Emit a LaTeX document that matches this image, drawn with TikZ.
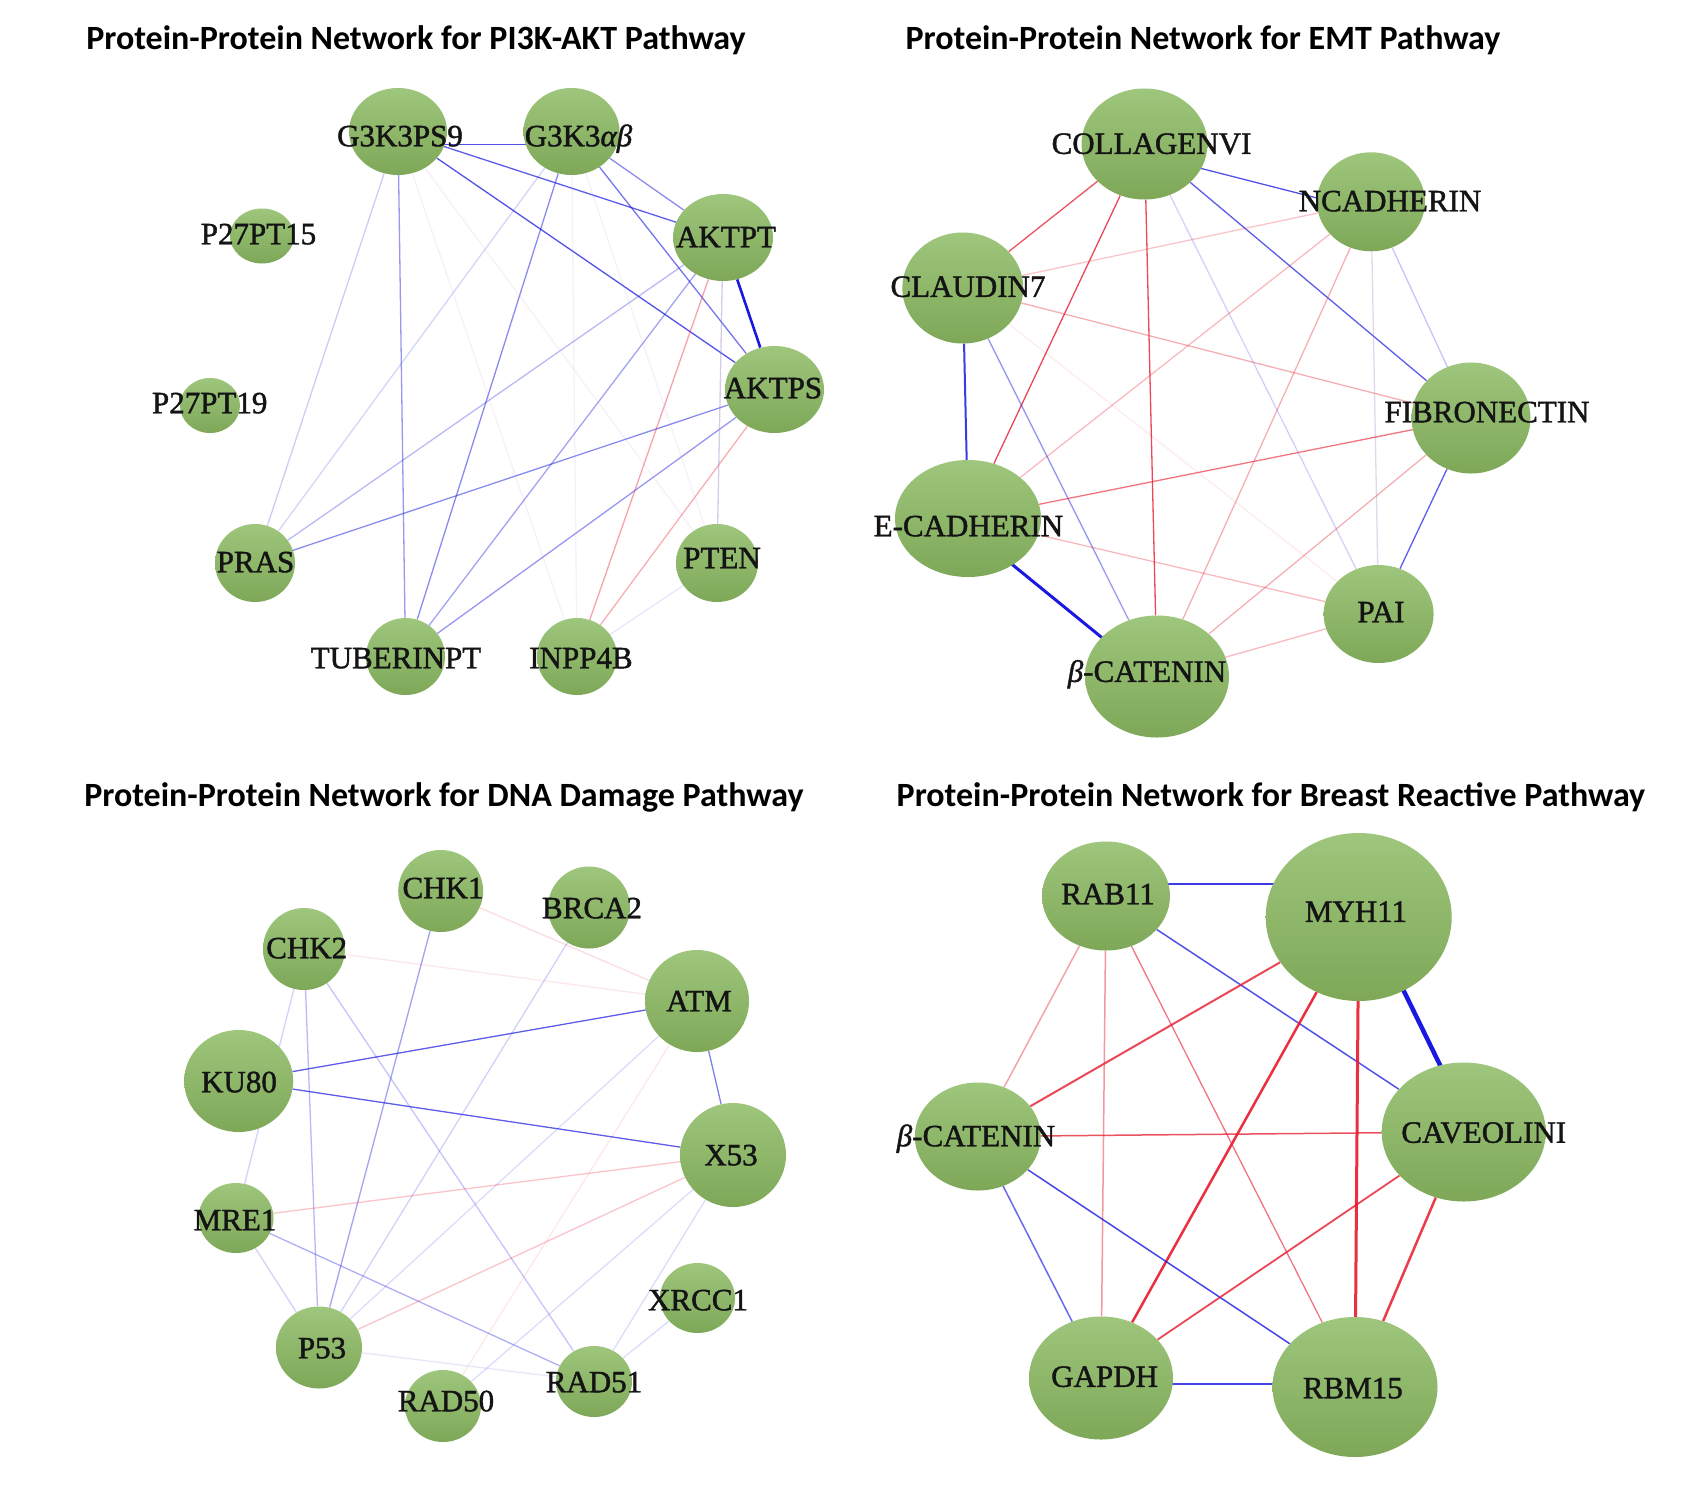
\documentclass[tikz,border=0pt]{standalone}
\usepackage{fontspec}
\setmainfont{Liberation Serif}
\newfontfamily\labfont{Liberation Serif}[FakeBold=1.4]
\newfontfamily\titlefont{Carlito}
\usetikzlibrary{shapes.geometric}
\pgfdeclarelayer{bg}
\pgfsetlayers{bg,main}
\definecolor{ntop}{RGB}{158,198,124}
\definecolor{nbot}{RGB}{126,168,88}
\definecolor{eblue}{RGB}{25,25,225}
\definecolor{ered}{RGB}{232,25,45}
\definecolor{egray}{RGB}{150,130,190}
\begin{document}
\begin{tikzpicture}[x=1pt,y=-1pt,
 prot/.style 2 args={ellipse, inner sep=0pt, minimum width=#1pt, minimum height=#2pt, top color=ntop, bottom color=nbot, draw=none},
 lab/.style={inner sep=0pt, text height=20.5pt, text depth=0pt, text=black!92, font=\labfont\fontsize{31}{35}\selectfont},
 ttl/.style={inner sep=0pt, text height=22pt, text depth=0pt, font=\titlefont\bfseries\fontsize{34}{40}\selectfont},
 be/.style={draw=eblue, draw opacity=#1, line width=1.3pt},
 re/.style={draw=ered, draw opacity=#1, line width=1.3pt},
 ge/.style={draw=egray, draw opacity=#1, line width=1.3pt},
]
\useasboundingbox (0,0) rectangle (1694,1486);

% ---------- titles
\node[ttl] (t1) at (416,38) {Protein-Protein Network for PI3K-AKT Pathway};
\node[ttl] (t2) at (1203,38) {Protein-Protein Network for EMT Pathway};
\node[ttl] (t3) at (444,795) {Protein-Protein Network for DNA Damage Pathway};
\node[ttl] (t4) at (1271,795) {Protein-Protein Network for Breast Reactive Pathway};

% ---------- panel 1: PI3K-AKT
\node[prot={98}{87}] (ps9) at (398,131.5) {};
\node[prot={96}{87}] (ab) at (571.5,131.5) {};
\node[prot={64}{55}] (p15) at (262,236) {};
\node[prot={60}{55}] (p19) at (210,405.5) {};
\node[prot={100}{87}] (aktpt) at (723,237.5) {};
\node[prot={99}{87}] (aktps) at (774.5,389.5) {};
\node[prot={80}{78}] (pras) at (255,563) {};
\node[prot={82}{78}] (pten) at (717,563) {};
\node[prot={79}{77}] (tub) at (405.5,656.5) {};
\node[prot={80}{77}] (inpp) at (577,656.5) {};
\node[lab] (lps9) at (400,136) {G3K3PS9};
\node[lab] (lab1) at (578.5,136) {G3K3\textit{αβ}};
\node[lab] (lp15) at (258.5,234) {P27PT15};
\node[lab] (lp19) at (209.7,403) {P27PT19};
\node[lab] (laktpt) at (726,237) {AKTPT};
\node[lab] (laktps) at (773,388) {AKTPS};
\node[lab] (lpras) at (255.5,562) {PRAS};
\node[lab] (lpten) at (722,558) {PTEN};
\node[lab] (ltub) at (396,658) {TUBERINPT};
\node[lab] (linpp) at (581,658) {INPP4B};

% ---------- panel 2: EMT
\node[prot={126}{111}] (coll) at (1144.5,144) {};
\node[prot={108}{99}] (ncad) at (1371,201.8) {};
\node[prot={121}{111}] (claud) at (962.8,288) {};
\node[prot={119}{111}] (fibro) at (1471,418) {};
\node[prot={146}{117}] (ecad) at (968,518.5) {};
\node[prot={110}{98}] (pai) at (1378.6,614) {};
\node[prot={144}{122}] (bcat) at (1157,676.5) {};
\node[lab] (lcoll) at (1151.5,143.6) {COLLAGENVI};
\node[lab] (lncad) at (1390,201) {NCADHERIN};
\node[lab] (lclaud) at (968,286.6) {CLAUDIN7};
\node[lab] (lfibro) at (1487,412) {FIBRONECTIN};
\node[lab] (lecad) at (968.4,526) {E-CADHERIN};
\node[lab] (lpai) at (1381,612) {PAI};
\node[lab] (lbcat) at (1147,671.6) {\textit{β}-CATENIN};

% ---------- panel 3: DNA damage
\node[prot={85}{82}] (chk1) at (440.7,891) {};
\node[prot={82}{82}] (chk2) at (304,949) {};
\node[prot={109}{102}] (ku80) at (238.7,1081) {};
\node[prot={75}{70}] (mre1) at (236,1218) {};
\node[prot={82}{82}] (brca2) at (589,907.5) {};
\node[prot={104}{102}] (atm) at (697,1001) {};
\node[prot={106}{104}] (x53) at (733,1155) {};
\node[prot={75}{70}] (xrcc1) at (697.5,1298) {};
\node[prot={76}{71}] (rad51) at (594,1381.5) {};
\node[prot={76}{72}] (rad50) at (443,1406) {};
\node[prot={86}{82}] (p53) at (319,1347.5) {};
\node[lab] (lchk1) at (443,888) {CHK1};
\node[lab] (lchk2) at (306.7,948) {CHK2};
\node[lab] (lku80) at (239,1082) {KU80};
\node[lab] (lmre1) at (235,1220) {MRE1};
\node[lab] (lbrca2) at (592,908) {BRCA2};
\node[lab] (latm) at (699,1001) {ATM};
\node[lab] (lx53) at (731,1155) {X53};
\node[lab] (lxrcc1) at (698,1300) {XRCC1};
\node[lab] (lrad51) at (594,1382) {RAD51};
\node[lab] (lrad50) at (446,1401) {RAD50};
\node[lab] (lp53) at (322,1348) {P53};

% ---------- panel 4: Breast reactive
\node[prot={128}{109}] (rab) at (1106,896) {};
\node[prot={186}{168}] (myh) at (1358.7,917) {};
\node[prot={126}{108}] (bcatb) at (977.8,1136.5) {};
\node[prot={164}{139}] (cav) at (1463.7,1132) {};
\node[prot={144}{123}] (gapdh) at (1101,1378) {};
\node[prot={165}{140}] (rbm) at (1355,1387) {};
\node[lab] (lrab) at (1108,894) {RAB11};
\node[lab] (lmyh) at (1356,911.6) {MYH11};
\node[lab] (lbcatb) at (976,1136) {\textit{β}-CATENIN};
\node[lab] (lcav) at (1483.7,1132.5) {CAVEOLINI};
\node[lab] (lgapdh) at (1104.6,1376.6) {GAPDH};
\node[lab] (lrbm) at (1352.8,1388) {RBM15};

\begin{pgfonlayer}{bg}
\fill[white] (0,0) rectangle (1694,1486);
% panel 1 edges
\draw[be=.75] ([yshift=-13pt]ps9.center) -- ([yshift=-13pt]ab.center);
\draw[be=.7] (ps9) -- (aktpt);
\draw[be=.75] (ps9) -- (aktps);
\draw[be=.5] (ab) -- (aktpt);
\draw[be=.6] (ab) -- (aktps);
\draw[be=1, line width=2.6pt] (aktpt) -- (aktps);
\draw[be=.45] (ps9) -- (tub);
\draw[be=.5] (ab) -- (tub);
\draw[be=.5] (aktps) -- (pras);
\draw[be=.3] (aktpt) -- (pras);
\draw[be=.4] (aktpt) -- (tub);
\draw[be=.45] (aktps) -- (tub);
\draw[be=.22] (ps9) -- (pras);
\draw[be=.18] (ab) -- (pras);
\draw[re=.4] (aktpt) -- (inpp);
\draw[re=.35] (aktps) -- (inpp);
\draw[ge=.4] (aktpt) -- (pten);
\draw[ge=.1] (ps9) -- (pten);
\draw[ge=.1] (ab) -- (pten);
\draw[ge=.1] (ps9) -- (inpp);
\draw[ge=.1] (ab) -- (inpp);
\draw[be=.1] (inpp) -- (pten);
% panel 2 edges
\draw[be=.75] ([yshift=-10pt]coll.center) -- ([yshift=-10pt]ncad.center);
\draw[re=.75] (coll) -- (claud);
\draw[re=.8] (coll) -- (ecad);
\draw[re=.8] (coll) -- (bcat);
\draw[be=.7] (coll) -- (fibro);
\draw[be=.2] (coll) -- (pai);
\draw[re=.25] (ncad) -- (claud);
\draw[re=.3] (ncad) -- (ecad);
\draw[re=.35] (ncad) -- (bcat);
\draw[ge=.3] (ncad) -- (pai);
\draw[be=.25] (ncad) -- (fibro);
\draw[re=.35] (claud) -- (fibro);
\draw[be=.85, line width=2pt] (claud) -- (ecad);
\draw[be=.45] (claud) -- (bcat);
\draw[re=.08] (claud) -- (pai);
\draw[re=.6] (fibro) -- (ecad);
\draw[be=.7] (fibro) -- (pai);
\draw[re=.35] (fibro) -- (bcat);
\draw[be=1, line width=3pt] ([yshift=-10pt]ecad.center) -- ([yshift=-6pt]bcat.center);
\draw[re=.3] (ecad) -- (pai);
\draw[re=.3] (bcat) -- (pai);
% panel 3 edges
\draw[be=.7] (ku80) -- (atm);
\draw[be=.7] (ku80) -- (x53);
\draw[be=.55] (atm) -- (x53);
\draw[be=.4] (chk1) -- (p53);
\draw[be=.3] (chk2) -- (p53);
\draw[be=.2] (chk2) -- (mre1);
\draw[be=.2] (mre1) -- (p53);
\draw[be=.35] (mre1) -- (rad51);
\draw[be=.25] (chk2) -- (rad51);
\draw[re=.25] (mre1) -- (x53);
\draw[re=.25] (p53) -- (x53);
\draw[be=.15] (p53) -- (atm);
\draw[be=.2] (p53) -- (brca2);
\draw[re=.15] (chk1) -- (atm);
\draw[re=.1] (chk2) -- (atm);
\draw[be=.15] (rad50) -- (x53);
\draw[be=.15] (rad51) -- (x53);
\draw[be=.15] (rad51) -- (xrcc1);
\draw[re=.1] (rad50) -- (atm);
\draw[be=.1] (p53) -- (rad51);
% panel 4 edges
\draw[be=.85, line width=2.5pt] ([yshift=12pt]rab.center) -- ([yshift=33pt]myh.center);
\draw[be=.75, line width=1.5pt] (rab) -- (cav);
\draw[re=.4, line width=1.5pt] (rab) -- (bcatb);
\draw[re=.45, line width=1.5pt] (rab) -- (gapdh);
\draw[re=.6] (rab) -- (rbm);
\draw[re=.8, line width=2pt] (myh) -- (bcatb);
\draw[re=.9, line width=2.5pt] (myh) -- (gapdh);
\draw[re=.9, line width=3pt] (myh) -- (rbm);
\draw[be=1, line width=4.5pt] ([xshift=9pt]myh.center) -- ([xshift=9pt]cav.center);
\draw[re=.75, line width=1.5pt] (bcatb) -- (cav);
\draw[be=.65, line width=1.5pt] (bcatb) -- (gapdh);
\draw[be=.8, line width=1.5pt] (bcatb) -- (rbm);
\draw[re=.8, line width=1.8pt] (cav) -- (gapdh);
\draw[re=.85, line width=2.5pt] (cav) -- (rbm);
\draw[be=.8, line width=2.5pt] ([yshift=-6pt]gapdh.center) -- ([yshift=3pt]rbm.center);
\end{pgfonlayer}
\end{tikzpicture}
\end{document}
